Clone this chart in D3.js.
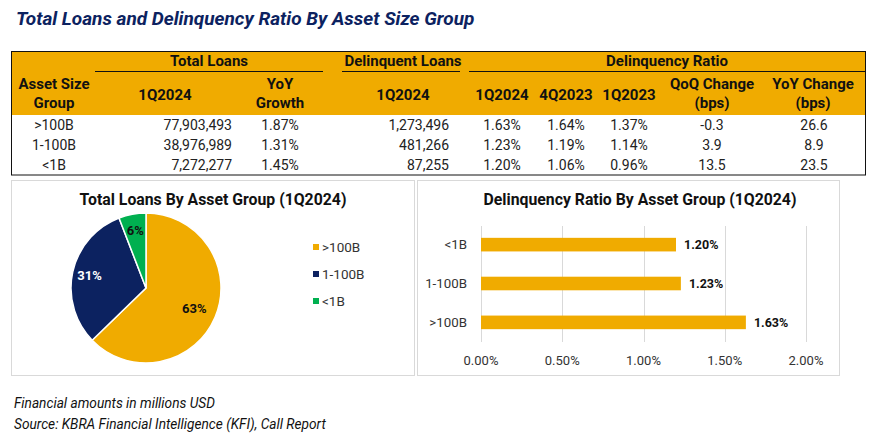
<!DOCTYPE html>
<html>
<head>
<meta charset="utf-8">
<script src="https://cdn.jsdelivr.net/npm/d3@7"></script>
<style>
  body { margin: 0; background: #fff; }
  svg text { font-family: Roboto, "Noto Sans", sans-serif; }
</style>
</head>
<body>
<svg id="chart" width="873" height="442"></svg>
<script>
// ---- data ----
const groups       = [">100B", "1-100B", "<1B"];
const totalLoans   = [77903493, 38976989, 7272277];
const yoyGrowth    = ["1.87%", "1.31%", "1.45%"];
const delinqLoans  = [1273496, 481266, 87255];
const ratio1Q24    = [1.63, 1.23, 1.20];
const ratio4Q23    = [1.64, 1.19, 1.06];
const ratio1Q23    = [1.37, 1.14, 0.96];
const qoqBps       = ["-0.3", "3.9", "13.5"];
const yoyBps       = ["26.6", "8.9", "23.5"];
const pieOrder     = [">100B", "1-100B", "<1B"];
const barOrder     = ["<1B", "1-100B", ">100B"];
const xTicks       = [0, 0.5, 1, 1.5, 2];

const GOLD = "#F0AB00", NAVY = "#0C2260", GREEN = "#00B050";
const colors = { ">100B": GOLD, "1-100B": NAVY, "<1B": GREEN };

const svg = d3.select("#chart");

/* ── title ── */
svg.append("text").attr("x", 16).attr("y", 25)
  .attr("font-size", 19).attr("font-weight", 700).attr("font-style", "italic")
  .attr("fill", "#0C2260").text("Total Loans and Delinquency Ratio By Asset Size Group");

/* ── table ── */
const T = { x0: 11.5, x1: 865.5, y0: 51.5, yh: 115, y1: 175 };
const tbl = svg.append("g");
tbl.append("rect").attr("x", T.x0).attr("y", T.y0)
  .attr("width", T.x1 - T.x0).attr("height", T.yh - T.y0).attr("fill", GOLD);

const hdr = (x, y, t) => tbl.append("text").attr("x", x).attr("y", y)
  .attr("text-anchor", "middle").attr("font-size", 15).attr("font-weight", 700)
  .attr("fill", "#111").text(t);

// group headers with underlines
[["Total Loans", 209, 95, 323], ["Delinquent Loans", 403, 342, 460], ["Delinquency Ratio", 667, 469, 866]]
  .forEach(([t, cx, a, b]) => {
    hdr(cx, 66, t);
    tbl.append("line").attr("x1", a).attr("x2", b).attr("y1", 71.5).attr("y2", 71.5)
      .attr("stroke", "#111").attr("stroke-width", 1);
  });
hdr(54, 89, "Asset Size"); hdr(54, 108, "Group");
hdr(165, 100, "1Q2024");
hdr(280, 89, "YoY"); hdr(280, 108, "Growth");
hdr(403, 100, "1Q2024");
hdr(502, 100, "1Q2024"); hdr(566, 100, "4Q2023"); hdr(629, 100, "1Q2023");
hdr(712, 89, "QoQ Change"); hdr(712, 108, "(bps)");
hdr(813, 89, "YoY Change"); hdr(813, 108, "(bps)");

const fmtInt = d3.format(",");
const pct = v => v.toFixed(2) + "%";
const cell = (x, y, t, anchor) => tbl.append("text").attr("x", x).attr("y", y)
  .attr("text-anchor", anchor || "middle").attr("font-size", 14).attr("fill", "#222").text(t);

groups.forEach((g, i) => {
  const y = 130 + i * 20;
  cell(54, y, g);
  cell(232, y, fmtInt(totalLoans[i]), "end");
  cell(280, y, yoyGrowth[i]);
  cell(449, y, fmtInt(delinqLoans[i]), "end");
  cell(502, y, pct(ratio1Q24[i]));
  cell(566, y, pct(ratio4Q23[i]));
  cell(629, y, pct(ratio1Q23[i]));
  cell(712, y, qoqBps[i]);
  cell(814, y, yoyBps[i]);
});
tbl.append("rect").attr("x", T.x0).attr("y", T.y0)
  .attr("width", T.x1 - T.x0).attr("height", T.y1 - T.y0)
  .attr("fill", "none").attr("stroke", "#111").attr("stroke-width", 1);

/* ── panels ── */
const panel = (x, y, w, h) => svg.append("rect").attr("x", x).attr("y", y)
  .attr("width", w).attr("height", h).attr("fill", "#fff")
  .attr("stroke", "#d9d9d9").attr("stroke-width", 1);
panel(11.5, 180.5, 403, 195);
panel(417.5, 180.5, 422, 195);

const ptitle = (x, t) => svg.append("text").attr("x", x).attr("y", 205)
  .attr("text-anchor", "middle").attr("font-size", 15.8).attr("font-weight", 700)
  .attr("fill", "#111").text(t);
ptitle(213, "Total Loans By Asset Group (1Q2024)");
ptitle(640, "Delinquency Ratio By Asset Group (1Q2024)");

/* ── pie ── */
const pieData = pieOrder.map(g => ({ g, v: totalLoans[groups.indexOf(g)] }));
const total = d3.sum(pieData, d => d.v);
const pie = d3.pie().value(d => d.v).sort(null);
const R = 75;
const arc = d3.arc().innerRadius(0).outerRadius(R);
const gPie = svg.append("g").attr("transform", "translate(146,288)");
const arcs = pie(pieData);
gPie.selectAll("path").data(arcs).join("path")
  .attr("d", arc).attr("fill", d => colors[d.data.g])
  .attr("stroke", "#fff").attr("stroke-width", 1.5);

const labelR = { ">100B": 0.7, "1-100B": 0.77, "<1B": 0.78 };
gPie.selectAll("text.lbl").data(arcs).join("text").attr("class", "lbl")
  .attr("transform", d => {
    const a = (d.startAngle + d.endAngle) / 2, r = R * labelR[d.data.g];
    return `translate(${Math.sin(a) * r},${-Math.cos(a) * r})`;
  })
  .attr("text-anchor", "middle").attr("dy", "0.35em")
  .attr("font-size", 13).attr("font-weight", 700)
  .attr("fill", d => d.data.g === "1-100B" ? "#fff" : "#111")
  .text(d => Math.round(d.data.v / total * 100) + "%");

// legend
const gLeg = svg.append("g").attr("transform", "translate(313,247)");
pieOrder.forEach((g, i) => {
  const row = gLeg.append("g").attr("transform", `translate(0,${i * 27})`);
  row.append("rect").attr("x", 0).attr("y", -3).attr("width", 6).attr("height", 6).attr("fill", colors[g]);
  row.append("text").attr("x", 9).attr("y", 0).attr("dy", "0.35em")
    .attr("font-size", 13.5).attr("fill", "#333").text(g);
});

/* ── bars ── */
const x = d3.scaleLinear().domain([0, 2]).range([481, 806]);
const y = d3.scaleBand().domain(barOrder).range([225, 342]).paddingInner(0.65).paddingOuter(0.33);
const gBar = svg.append("g");
gBar.selectAll("line.grid").data(xTicks).join("line").attr("class", "grid")
  .attr("x1", d => Math.round(x(d)) + 0.5).attr("x2", d => Math.round(x(d)) + 0.5)
  .attr("y1", 226).attr("y2", 342).attr("stroke", "#d9d9d9").attr("stroke-width", 1);
gBar.selectAll("text.tick").data(xTicks).join("text").attr("class", "tick")
  .attr("x", d => x(d)).attr("y", 365).attr("text-anchor", "middle")
  .attr("font-size", 13).attr("fill", "#333").text(d => d.toFixed(2) + "%");

const barVal = g => ratio1Q24[groups.indexOf(g)];
gBar.selectAll("rect.bar").data(barOrder).join("rect").attr("class", "bar")
  .attr("x", x(0)).attr("y", d => y(d))
  .attr("width", d => x(barVal(d)) - x(0)).attr("height", y.bandwidth())
  .attr("fill", GOLD);
gBar.selectAll("text.cat").data(barOrder).join("text").attr("class", "cat")
  .attr("x", 467).attr("y", d => y(d) + y.bandwidth() / 2).attr("dy", "0.35em")
  .attr("text-anchor", "end").attr("font-size", 13.3).attr("fill", "#333").text(d => d);
gBar.selectAll("text.val").data(barOrder).join("text").attr("class", "val")
  .attr("x", d => x(barVal(d)) + 8).attr("y", d => y(d) + y.bandwidth() / 2).attr("dy", "0.35em")
  .attr("font-size", 12.5).attr("font-weight", 700).attr("fill", "#111").text(d => pct(barVal(d)));

/* ── footnotes ── */
[["Financial amounts in millions USD", 408], ["Source: KBRA Financial Intelligence (KFI), Call Report", 429]]
  .forEach(([t, yy]) => svg.append("text").attr("x", 14).attr("y", yy)
    .attr("font-family", "Lato, 'Open Sans', sans-serif").attr("font-style", "italic")
    .attr("font-size", 13.7).attr("fill", "#111").text(t));
</script>
</body>
</html>
